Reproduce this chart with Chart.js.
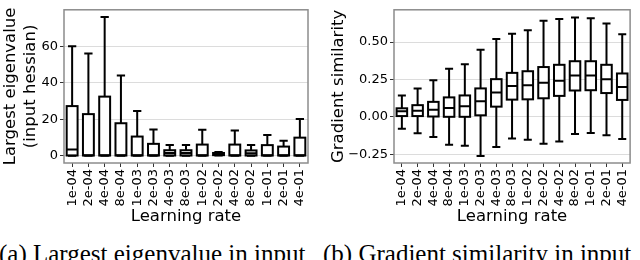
<!DOCTYPE html>
<html lang="en">
<head>
    <meta charset="UTF-8">
    <title>Box plots</title>
    <script src="https://cdn.jsdelivr.net/npm/chart.js"></script>
    <style>
        body {
            margin: 0;
            width: 640px;
            height: 260px;
            overflow: hidden;
            background: #fff;
            position: relative;
        }
        .panel {
            position: absolute;
            top: 0;
            width: 320px;
            height: 230px;
        }
        .caption {
            position: absolute;
            top: 241px;
            font-family: 'Liberation Serif', serif;
            font-size: 25px;
            line-height: 1;
            white-space: nowrap;
            color: #000;
        }
    </style>
</head>
<body>
    <div class="panel" style="left:0"><canvas id="eigChart"></canvas></div>
    <div class="panel" style="left:320px"><canvas id="simChart"></canvas></div>
    <div class="caption" style="left:-1px">(a) Largest eigenvalue in input</div>
    <div class="caption" style="left:323px">(b) Gradient similarity in input</div>

    <script>
        const lrLabels = ['1e-04', '2e-04', '4e-04', '8e-04', '1e-03', '2e-03', '4e-03', '8e-03',
                          '1e-02', '2e-02', '4e-02', '8e-02', '1e-01', '2e-01', '4e-01'];

        // (a) largest eigenvalue of the input hessian
        const eigMin = [0, 0, 0, 0, 0, 0, 0, 0, 0, 0.1, 0, 0, 0, 0, 0];
        const eigQ1  = [0.1, 0.1, 0.1, 0.1, 0.1, 0.1, 0.1, 0.1, 0.1, 0.3, 0.1, 0.1, 0.1, 0.1, 0.1];
        const eigMed = [3.4, 0.3, 0.3, 0.3, 0.3, 0.3, 1.5, 1.5, 0.3, 0.8, 0.3, 1.4, 0.3, 0.3, 0.3];
        const eigQ3  = [27.2, 22.8, 32.4, 17.8, 10.5, 6.5, 3.0, 3.0, 6.1, 1.5, 6.1, 2.9, 5.8, 5.0, 9.9];
        const eigMax = [60, 56, 76, 44, 24.5, 14.4, 5.9, 5.9, 14.2, 2.0, 13.8, 5.9, 11.3, 8.2, 20.1];
        const eigTicks = [0, 20, 40, 60];

        // (b) gradient similarity
        const simMin = [-0.080, -0.110, -0.135, -0.187, -0.193, -0.263, -0.202, -0.145,
                        -0.154, -0.180, -0.165, -0.115, -0.108, -0.124, -0.148];
        const simQ1  = [0.005, 0.005, 0.002, 0.000, 0.000, 0.010, 0.068, 0.115,
                        0.117, 0.124, 0.140, 0.176, 0.178, 0.159, 0.113];
        const simMed = [0.037, 0.040, 0.048, 0.059, 0.070, 0.104, 0.163, 0.207,
                        0.211, 0.228, 0.241, 0.276, 0.276, 0.252, 0.200];
        const simQ3  = [0.057, 0.078, 0.100, 0.130, 0.143, 0.190, 0.252, 0.294,
                        0.305, 0.333, 0.348, 0.372, 0.372, 0.348, 0.290];
        const simMax = [0.143, 0.190, 0.244, 0.322, 0.352, 0.448, 0.520, 0.555,
                        0.579, 0.642, 0.655, 0.665, 0.659, 0.624, 0.552];
        const simTicks = [-0.25, 0, 0.25, 0.5];

        const axisFont = {family: "'DejaVu Sans', sans-serif", size: 13};
        const titleFont = {family: "'DejaVu Sans', sans-serif", size: 16.5, lineHeight: 1.24};

        // box outline, whiskers, caps and medians, placed through the chart's own scales
        const boxPlugin = {
            id: 'boxParts',
            afterDatasetsDraw(chart, args, opts) {
                const ctx = chart.ctx;
                const y = chart.scales.y;
                const meta = chart.getDatasetMeta(0);
                ctx.save();
                ctx.strokeStyle = '#000';
                ctx.lineWidth = 2;
                meta.data.forEach((bar, i) => {
                    const cx = bar.x;
                    const half = bar.width / 2;
                    const cap = bar.width * 0.38;
                    const yMin = y.getPixelForValue(opts.min[i]);
                    const yQ1 = y.getPixelForValue(opts.q1[i]);
                    const yMed = y.getPixelForValue(opts.med[i]);
                    const yQ3 = y.getPixelForValue(opts.q3[i]);
                    const yMax = y.getPixelForValue(opts.max[i]);
                    ctx.beginPath();
                    ctx.moveTo(cx, yQ3); ctx.lineTo(cx, yMax);
                    ctx.moveTo(cx - cap, yMax); ctx.lineTo(cx + cap, yMax);
                    ctx.moveTo(cx, yQ1); ctx.lineTo(cx, yMin);
                    ctx.moveTo(cx - cap, yMin); ctx.lineTo(cx + cap, yMin);
                    ctx.moveTo(cx - half, yMed); ctx.lineTo(cx + half, yMed);
                    ctx.stroke();
                    ctx.strokeRect(cx - half, yQ3, bar.width, yQ1 - yQ3);
                });
                ctx.restore();
            }
        };

        // grey frame round the plot area
        const framePlugin = {
            id: 'frame',
            afterDraw(chart) {
                const {left, top, right, bottom} = chart.chartArea;
                const ctx = chart.ctx;
                ctx.save();
                ctx.strokeStyle = '#8c8c8c';
                ctx.lineWidth = 1.5;
                ctx.strokeRect(left, top, right - left, bottom - top);
                ctx.restore();
            }
        };

        function makeBoxChart(id, cfg) {
            return new Chart(document.getElementById(id), {
                type: 'bar',
                data: {
                    labels: lrLabels,
                    datasets: [{
                        data: cfg.q1.map((v, i) => [v, cfg.q3[i]]),
                        backgroundColor: '#fff',
                        borderWidth: 0,
                        barPercentage: 0.67,
                        categoryPercentage: 1
                    }]
                },
                options: {
                    responsive: true,
                    maintainAspectRatio: false,
                    animation: false,
                    layout: {padding: {top: cfg.padTop, right: cfg.padRight, left: 0, bottom: 0}},
                    plugins: {
                        legend: {display: false},
                        tooltip: {enabled: false},
                        boxParts: {min: cfg.min, q1: cfg.q1, med: cfg.med, q3: cfg.q3, max: cfg.max}
                    },
                    scales: {
                        x: {
                            border: {display: false},
                            grid: {offset: false, drawOnChartArea: false, drawTicks: true,
                                   tickLength: 4, tickColor: '#333'},
                            ticks: {color: '#000', font: axisFont, minRotation: 90, maxRotation: 90,
                                    autoSkip: false, padding: 2},
                            title: {display: true, text: 'Learning rate', color: '#000',
                                    font: titleFont, padding: {top: 0, bottom: 3}},
                            afterFit: s => { s.height = 67; }
                        },
                        y: {
                            min: cfg.yMin,
                            max: cfg.yMax,
                            border: {display: false},
                            grid: {color: '#dcdcdc', tickColor: '#333', tickLength: 4, lineWidth: 1},
                            ticks: {color: '#000', font: axisFont, padding: 2, callback: cfg.fmt},
                            afterBuildTicks: s => { s.ticks = cfg.ticks.map(v => ({value: v})); },
                            title: {display: true, text: cfg.yTitle, color: '#000',
                                    font: titleFont, padding: {top: cfg.titlePad, bottom: 0}},
                            afterFit: s => { s.width = cfg.yWidth; }
                        }
                    }
                },
                plugins: [boxPlugin, framePlugin]
            });
        }

        makeBoxChart('eigChart', {
            min: eigMin, q1: eigQ1, med: eigMed, q3: eigQ3, max: eigMax,
            ticks: eigTicks, yMin: -4, yMax: 80,
            fmt: v => String(v),
            yTitle: ['Largest eigenvalue', '(input hessian)'],
            titlePad: 0.5, yWidth: 64, padTop: 1, padRight: 12
        });

        makeBoxChart('simChart', {
            min: simMin, q1: simQ1, med: simMed, q3: simQ3, max: simMax,
            ticks: simTicks, yMin: -0.309, yMax: 0.716,
            fmt: v => v.toFixed(2).replace('-', '\u2212'),
            yTitle: 'Gradient similarity',
            titlePad: 8, yWidth: 74, padTop: 6, padRight: 5
        });
    </script>
</body>
</html>
